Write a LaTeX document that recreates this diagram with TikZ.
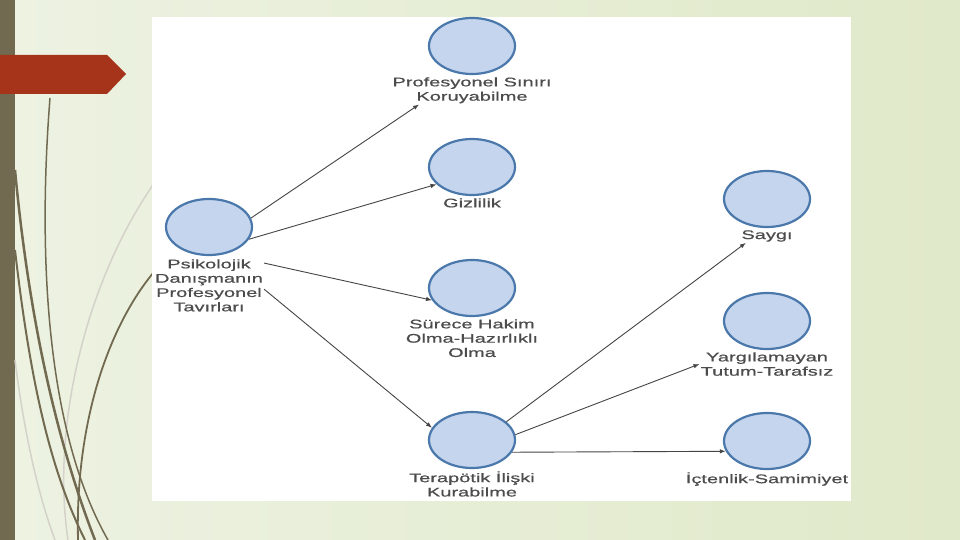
\documentclass[tikz,border=0pt]{standalone}
\usepackage{fontspec}
\setmainfont{Liberation Sans}
\newfontfamily\tagfont[FakeStretch=1.6,FakeBold=0.6]{Liberation Sans}
\usetikzlibrary{positioning,arrows.meta,shapes.geometric}
\definecolor{barolive}{HTML}{716A50}
\definecolor{bannerred}{HTML}{A5341A}
\definecolor{bgleft}{HTML}{EDF2E2}
\definecolor{bgright}{HTML}{E0E9C9}
\definecolor{bubblefill}{HTML}{C5D5EE}
\definecolor{bubbleedge}{HTML}{4A78AB}
\definecolor{linkgray}{HTML}{454545}
\begin{document}
\begin{tikzpicture}[x=1pt,y=-1pt,
  bubble/.style={ellipse, draw=bubbleedge, fill=bubblefill, line width=2.2pt,
    minimum width=86pt, minimum height=56pt, inner sep=0pt},
  tag/.style={font=\tagfont\fontsize{12.5}{14.3}\selectfont, text=black!70,
    align=center, inner sep=1pt},
  link/.style={draw=linkgray, line width=0.9pt, -{Latex[length=6pt,width=4.5pt]}}]
  \useasboundingbox (0,0) rectangle (960,540);

  % Slide background
  \fill[left color=bgleft, right color=bgright] (0,0) rectangle (960,540);
  \fill[barolive] (0,0) rectangle (15,540);
  \draw[barolive!30, line width=1.5pt] (160,175) .. controls (90,270) and (50,420) .. (68,540);
  \draw[barolive!30, line width=1.5pt] (15,360) .. controls (25,440) and (40,500) .. (55,540);
  \draw[barolive, line width=1.5pt] (50,98) .. controls (38,250) and (45,430) .. (108,540);
  \draw[barolive, line width=2.5pt] (15,170) .. controls (30,330) and (60,450) .. (95,540);
  \draw[barolive, line width=2pt] (15,250) .. controls (30,380) and (50,470) .. (85,540);
  \draw[barolive, line width=1.8pt] (160,265) .. controls (110,320) and (75,420) .. (78,540);
  \fill[bannerred] (0,55) -- (107,55) -- (126,74) -- (107,94) -- (0,94) -- cycle;

  % Diagram panel
  \fill[white] (152,17) rectangle (851,501);

  % Nodes
  \node[bubble] (psk) at (209,227) {};
  \node[tag, below=2pt of psk] (pskl) {Psikolojik\\Danışmanın\\Profesyonel\\Tavırları};
  \node[bubble] (prf) at (472,46) {};
  \node[tag, below=1pt of prf] (prfl) {Profesyonel Sınırı\\Koruyabilme};
  \node[bubble] (giz) at (472,167) {};
  \node[tag, below=1pt of giz] (gizl) {Gizlilik};
  \node[bubble] (sur) at (472,288) {};
  \node[tag, below=1pt of sur] (surl) {Sürece Hakim\\Olma-Hazırlıklı\\Olma};
  \node[bubble] (ter) at (472,440) {};
  \node[tag, below=1pt of ter] (terl) {Terapötik İlişki\\Kurabilme};
  \node[bubble] (say) at (767,199) {};
  \node[tag, below=1pt of say] (sayl) {Saygı};
  \node[bubble] (yar) at (767,321) {};
  \node[tag, below=1pt of yar] (yarl) {Yargılamayan\\Tutum-Tarafsız};
  \node[bubble] (ict) at (767,441) {};
  \node[tag, below=1pt of ict] (ictl) {İçtenlik-Samimiyet};

  % Connectors
  \draw[link] (psk.12) -- (prfl.195);
  \draw[link] (psk.-17) -- (giz.206);
  \draw[link] (pskl.22) -- (sur.197);
  \draw[link] (pskl.-4) -- (ter.163);
  \draw[link] (ter.28) -- (sayl.198);
  \draw[link] (ter.7) -- (yarl.west);
  \draw[link] (ter.-17) -- (ict.194);
\end{tikzpicture}
\end{document}
